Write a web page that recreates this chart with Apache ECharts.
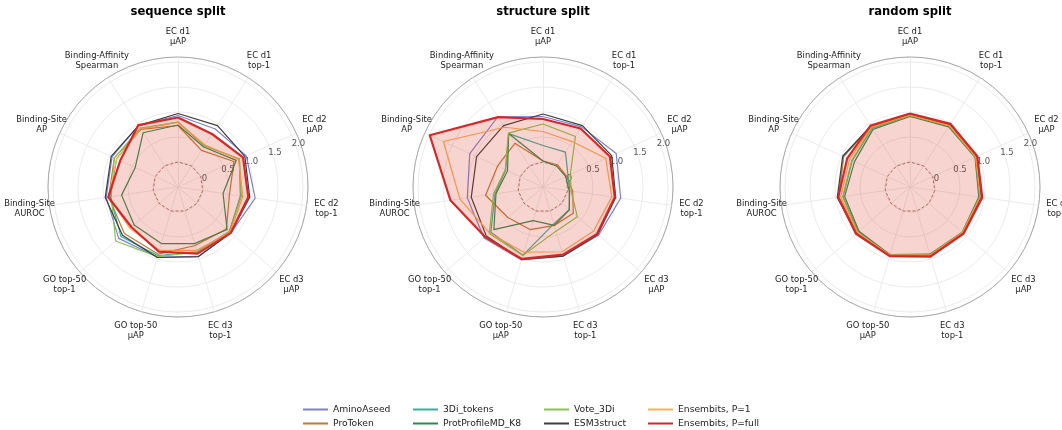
<!DOCTYPE html>
<html>
<head>
<meta charset="utf-8">
<script src="https://cdn.jsdelivr.net/npm/echarts@6/dist/echarts.min.js"></script>
<style>
html, body { margin: 0; padding: 0; background: #fff; }
#chart { width: 1062px; height: 430px; }
</style>
</head>
<body>
<div id="chart"></div>
<script>
// axes, clockwise from the top
const axisNames = ['EC d1\nμAP', 'EC d1\ntop-1', 'EC d2\nμAP', 'EC d2\ntop-1', 'EC d3\nμAP', 'EC d3\ntop-1',
  'GO top-50\nμAP', 'GO top-50\ntop-1', 'Binding-Site\nAUROC', 'Binding-Site\nAP', 'Binding-Affinity\nSpearman'];
const splits = ['sequence split', 'structure split', 'random split'];
const methods = ['AminoAseed', 'ProToken', '3Di_tokens', 'ProtProfileMD_K8', 'Vote_3Di', 'ESM3struct', 'Ensembits, P=1', 'Ensembits, P=full'];
const radialMin = -0.5;
const radialMax = 2.1;
const zeroLine = [0, 0, 0, 0, 0, 0, 0, 0, 0, 0, 0];

// sequence split
const seqAminoAseed = [0.93, 0.88, 1.00, 1.06, 0.90, 0.95, 0.96, 1.07, 0.95, 0.95, 0.96];
const seqProToken   = [0.73, 0.37, 0.73, 0.54, 0.78, 0.72, 0.90, 0.92, 0.90, 0.90, 0.87];
const seq3Di        = [0.80, 0.48, 0.85, 0.76, 0.86, 0.85, 0.93, 1.01, 0.87, 0.85, 0.88];
const seqProfileMD  = [0.74, 0.45, 0.78, 0.41, 0.80, 0.68, 0.68, 0.66, 0.64, 0.44, 0.79];
const seqVote3Di    = [0.80, 0.48, 0.85, 0.78, 0.86, 0.86, 0.95, 1.15, 0.85, 0.90, 0.90];
const seqESM3       = [0.97, 0.96, 0.97, 0.95, 0.90, 0.95, 0.97, 0.97, 0.97, 0.97, 0.96];
const seqEnsP1      = [0.79, 0.50, 0.83, 0.81, 0.88, 0.82, 0.82, 0.77, 0.90, 0.85, 0.88];
const seqEnsFull    = [0.89, 0.76, 0.93, 0.92, 0.90, 0.89, 0.85, 0.73, 0.91, 0.77, 0.97];

// structure split
const strAminoAseed = [0.91, 0.93, 1.11, 1.07, 0.97, 0.94, 1.02, 1.06, 1.03, 1.11, 1.17];
const strProToken   = [0.02, 0.03, 0.02, 0.10, 0.30, 0.30, 0.39, 0.43, 0.66, 0.50, 0.54];
const str3Di        = [0.33, 0.33, 0.05, 0.04, 0.19, 0.27, 0.92, 0.88, 0.47, 0.32, 0.77];
const strProfileMD  = [0.02, 0.00, 0.00, 0.03, 0.20, 0.30, 0.20, 0.80, 0.45, 0.28, 0.77];
const strVote3Di    = [0.76, 0.70, 0.10, 0.07, 0.41, 0.42, 0.93, 0.92, 0.50, 0.33, 0.78];
const strESM3       = [0.96, 0.96, 1.01, 0.97, 0.95, 0.94, 1.01, 1.00, 0.95, 0.96, 0.96];
const strEnsP1      = [0.61, 0.58, 0.88, 0.89, 0.84, 0.85, 0.86, 0.91, 1.18, 1.69, 0.92];
const strEnsFull    = [0.86, 0.89, 0.97, 0.95, 0.93, 0.91, 1.00, 1.03, 1.37, 1.99, 1.16];

// random split
const rndAminoAseed = [0.95, 0.98, 0.96, 0.93, 0.90, 0.92, 0.92, 0.91, 0.95, 0.96, 0.95];
const rndProToken   = [0.94, 0.97, 0.95, 0.92, 0.90, 0.93, 0.92, 0.90, 0.94, 0.96, 0.94];
const rnd3Di        = [0.93, 0.95, 0.94, 0.90, 0.89, 0.91, 0.91, 0.87, 0.85, 0.77, 0.90];
const rndProfileMD  = [0.91, 0.93, 0.93, 0.89, 0.88, 0.90, 0.91, 0.85, 0.82, 0.72, 0.87];
const rndVote3Di    = [0.93, 0.95, 0.94, 0.91, 0.88, 0.91, 0.92, 0.88, 0.86, 0.78, 0.91];
const rndESM3       = [0.96, 0.99, 0.97, 0.94, 0.91, 0.93, 0.93, 0.92, 0.97, 0.98, 0.95];
const rndEnsP1      = [0.94, 0.96, 0.95, 0.92, 0.89, 0.92, 0.92, 0.89, 0.90, 0.83, 0.93];
const rndEnsFull    = [0.97, 1.00, 0.98, 0.96, 0.92, 0.95, 0.94, 0.93, 0.95, 0.88, 0.96];

const panelData = [
  [seqAminoAseed, seqProToken, seq3Di, seqProfileMD, seqVote3Di, seqESM3, seqEnsP1, seqEnsFull],
  [strAminoAseed, strProToken, str3Di, strProfileMD, strVote3Di, strESM3, strEnsP1, strEnsFull],
  [rndAminoAseed, rndProToken, rnd3Di, rndProfileMD, rndVote3Di, rndESM3, rndEnsP1, rndEnsFull]
];

const colors = ['#8080d8', '#bf7a35', '#36b0a0', '#2e8b50', '#86c74a', '#3d3d3d', '#ffab57', '#d62728'];
const centers = [178, 543, 910];
const cy = 187;
const R = 130;

// echarts radar runs counter-clockwise, so flip the order after the first axis
const order = [0, 10, 9, 8, 7, 6, 5, 4, 3, 2, 1];
const reorder = arr => order.map(k => arr[k]);

const chart = echarts.init(document.getElementById('chart'));

const option = {
  animation: false,
  textStyle: { fontFamily: 'DejaVu Sans' },
  title: splits.map((t, i) => ({
    text: t,
    left: centers[i],
    top: 6,
    padding: 0,
    textAlign: 'center',
    textStyle: { fontSize: 11.6, fontWeight: 'bold', color: '#000', fontFamily: 'DejaVu Sans' }
  })),
  polar: centers.map(cx => ({ center: [cx, cy], radius: R })),
  angleAxis: centers.map((c, i) => ({
    polarIndex: i,
    type: 'value',
    min: 0,
    max: 360,
    startAngle: 20,
    axisLine: { lineStyle: { color: '#a8a8a8', width: 1 } },
    axisTick: { show: false },
    axisLabel: { show: false },
    splitLine: { show: false }
  })),
  radiusAxis: centers.map((c, i) => ({
    polarIndex: i,
    type: 'value',
    min: radialMin,
    max: radialMax,
    interval: 0.5,
    axisLine: { show: false },
    axisTick: { show: false },
    axisLabel: {
      fontSize: 8.5,
      color: '#555',
      margin: 0,
      align: 'center',
      verticalAlign: 'middle',
      padding: [0, 0, 3, 6],
      formatter: v => (v < -0.01 || v > 2.05) ? '' : (Math.abs(v) < 1e-9 ? '0' : v.toFixed(1))
    },
    splitLine: { lineStyle: { color: '#e6e6e6', width: 0.8 } }
  })),
  radar: centers.map(cx => ({
    center: [cx, cy],
    radius: R,
    shape: 'circle',
    startAngle: 90,
    indicator: order.map(k => ({ name: axisNames[k], min: radialMin, max: radialMax })),
    nameGap: 20,
    axisName: { color: '#222', fontSize: 8.4, lineHeight: 10, fontFamily: 'DejaVu Sans', align: 'center', verticalAlign: 'middle' },
    splitLine: { show: false },
    splitArea: { show: false },
    axisTick: { show: false },
    axisLabel: { show: false },
    axisLine: { lineStyle: { color: '#e6e6e6', width: 0.8 } }
  })),
  legend: [
    ['AminoAseed', 'ProToken'],
    ['3Di_tokens', 'ProtProfileMD_K8'],
    ['Vote_3Di', 'ESM3struct'],
    ['Ensembits, P=1', 'Ensembits, P=full']
  ].map((names, i) => ({
    data: names,
    orient: 'vertical',
    left: [303, 413, 544, 648][i],
    top: 404,
    padding: 0,
    icon: 'rect',
    itemWidth: 25,
    itemHeight: 2,
    itemGap: 3,
    selectedMode: false,
    textStyle: { fontSize: 9.2, lineHeight: 11, color: '#222', fontFamily: 'DejaVu Sans' }
  })),
  series: splits.map((s, p) => ({
    type: 'radar',
    radarIndex: p,
    symbol: 'none',
    silent: true,
    data: [{
      name: 'zero',
      value: reorder(zeroLine),
      lineStyle: { color: '#9b7b72', width: 1, type: [3, 2] },
      itemStyle: { color: '#9b7b72' }
    }].concat(methods.map((m, j) => {
      const item = {
        name: m,
        value: reorder(panelData[p][j]),
        lineStyle: { color: colors[j], width: j === 7 ? 2.2 : 1.2 },
        itemStyle: { color: colors[j] }
      };
      if (j === 7) item.areaStyle = { color: 'rgba(220,50,35,0.3)' };
      return item;
    }))
  }))
};

chart.setOption(option);
</script>
</body>
</html>
